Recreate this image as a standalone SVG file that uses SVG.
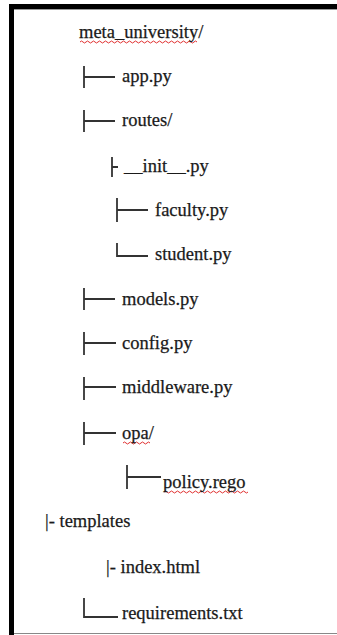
<svg xmlns="http://www.w3.org/2000/svg" width="337" height="635" viewBox="0 0 337 635">
<style>
text{font-family:"Liberation Serif","Times New Roman",serif;font-size:18.5px;fill:#1a1a1a;stroke:#1a1a1a;stroke-width:0.25}
.c{stroke:#333;stroke-width:1.8;fill:none}
.sq{stroke:#e03030;stroke-width:1;fill:none}
</style>
<rect x="0" y="0" width="337" height="635" fill="#fff"/>
<g id="frame">
<rect x="9" y="4" width="328" height="5" fill="#000"/>
<rect x="9" y="4" width="5" height="631" fill="#000"/>
<line x1="14" y1="9.5" x2="337" y2="9.5" stroke="#999" stroke-width="1"/>
<line x1="14" y1="633.5" x2="337" y2="633.5" stroke="#888" stroke-width="1.2"/>
</g>
<g id="connectors">
<path class="c" d="M84 66V88M84 77H115"/>
<path class="c" d="M84 110V132M84 121H115"/>
<path class="c" d="M112 157V177M112 167H118"/>
<path class="c" d="M117 198V222M117 210H148"/>
<path class="c" d="M117 243V256H148"/>
<path class="c" d="M84 288V310M84 299H115"/>
<path class="c" d="M84 332V355M84 343H116"/>
<path class="c" d="M84 377V400M84 387H116"/>
<path class="c" d="M84 422V445M84 433H116"/>
<path class="c" d="M127 465V489M127 477H161"/>
<path class="c" d="M84 598V617H118"/>
</g>
<g id="squiggles">
<path class="sq" d="M80 42q1.5 -2 3 0t3 0t3 0t3 0t3 0t3 0t3 0t3 0t3 0t3 0t3 0t3 0t3 0t3 0t3 0t3 0t3 0t3 0t3 0t3 0t3 0t3 0t3 0t3 0t3 0t3 0t3 0t3 0t3 0t3 0t3 0t3 0t3 0t3 0t3 0t3 0t3 0t3 0t3 0"/>
<path class="sq" d="M123 443q1.5 -2 3 0t3 0t3 0t3 0t3 0t3 0t3 0t3 0t3 0"/>
<path class="sq" d="M164 492q1.5 -2 3 0t3 0t3 0t3 0t3 0t3 0t3 0t3 0t3 0t3 0t3 0t3 0t3 0t3 0t3 0t3 0t3 0t3 0t3 0t3 0t3 0t3 0t3 0t3 0t3 0t3 0t3 0t3 0"/>
</g>
<g id="n-root"><text x="79" y="38">meta_university/</text></g>
<g id="n-app"><text x="122" y="82">app.py</text></g>
<g id="n-routes"><text x="122" y="126">routes/</text></g>
<g id="n-init"><text x="124" y="172">__init__.py</text></g>
<g id="n-faculty"><text x="155" y="216">faculty.py</text></g>
<g id="n-student"><text x="155" y="260">student.py</text></g>
<g id="n-models"><text x="122" y="305">models.py</text></g>
<g id="n-config"><text x="122" y="349">config.py</text></g>
<g id="n-middleware"><text x="122" y="393">middleware.py</text></g>
<g id="n-opa"><text x="122" y="439">opa/</text></g>
<g id="n-policy"><text x="163" y="488">policy.rego</text></g>
<g id="n-templates"><text x="45" y="527">|- templates</text></g>
<g id="n-index"><text x="106" y="573">|- index.html</text></g>
<g id="n-req"><text x="122" y="619">requirements.txt</text></g>
</svg>
